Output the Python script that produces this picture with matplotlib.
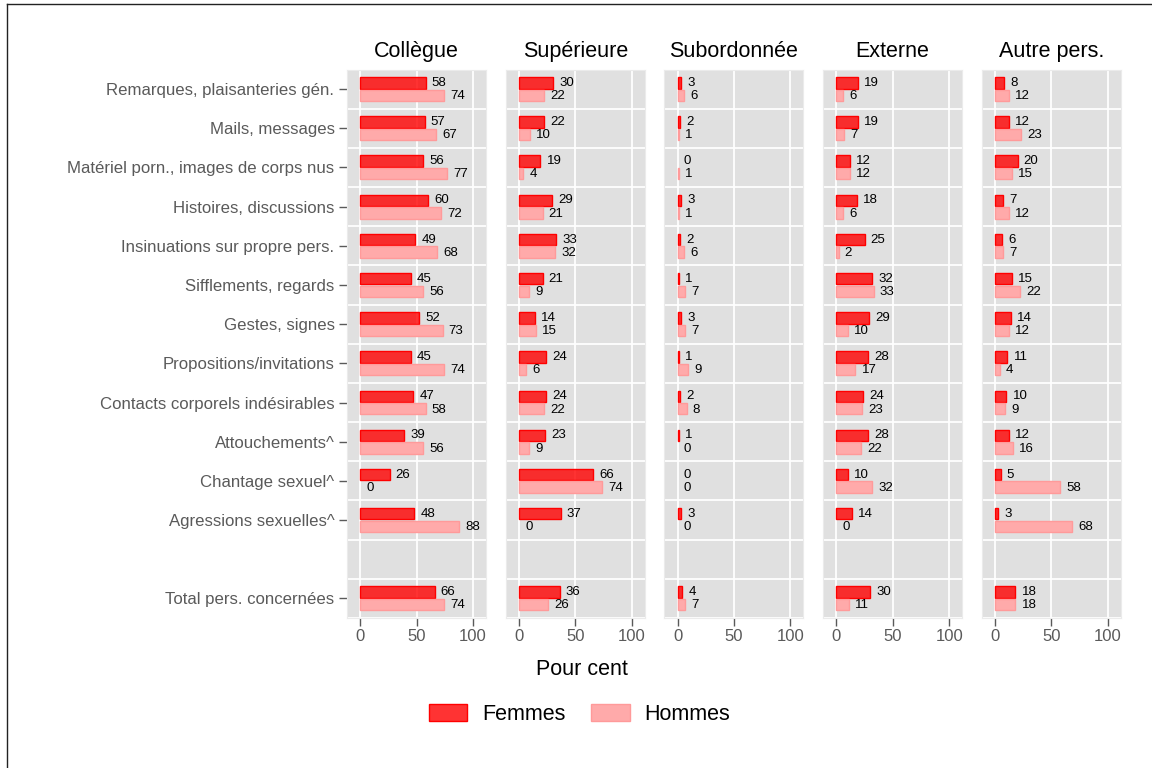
import matplotlib.pyplot as plt
from matplotlib.patches import Patch
from matplotlib.lines import Line2D
import numpy as np

plt.rcParams['font.family'] = ['Liberation Sans', 'DejaVu Sans']

categories = [
    'Remarques, plaisanteries gén.', 'Mails, messages',
    'Matériel porn., images de corps nus', 'Histoires, discussions',
    'Insinuations sur propre pers.', 'Sifflements, regards',
    'Gestes, signes', 'Propositions/invitations',
    'Contacts corporels indésirables', 'Attouchements^',
    'Chantage sexuel^', 'Agressions sexuelles^', 'Total pers. concernées',
]
facettes = ['Collègue', 'Supérieure', 'Subordonnée', 'Externe', 'Autre pers.']

# valeurs en pour cent (femmes / hommes), la derniere = total
collegue_f = [58, 57, 56, 60, 49, 45, 52, 45, 47, 39, 26, 48, 66]
collegue_h = [74, 67, 77, 72, 68, 56, 73, 74, 58, 56, 0, 88, 74]
superieure_f = [30, 22, 19, 29, 33, 21, 14, 24, 24, 23, 66, 37, 36]
superieure_h = [22, 10, 4, 21, 32, 9, 15, 6, 22, 9, 74, 0, 26]
subordonnee_f = [3, 2, 0, 3, 2, 1, 3, 1, 2, 1, 0, 3, 4]
subordonnee_h = [6, 1, 1, 1, 6, 7, 7, 9, 8, 0, 0, 0, 7]
externe_f = [19, 19, 12, 18, 25, 32, 29, 28, 24, 28, 10, 14, 30]
externe_h = [6, 7, 12, 6, 2, 33, 10, 17, 23, 22, 32, 0, 11]
autre_f = [8, 12, 20, 7, 6, 15, 14, 11, 10, 12, 5, 3, 18]
autre_h = [12, 23, 15, 12, 7, 22, 12, 4, 9, 16, 58, 68, 18]

series = [(collegue_f, collegue_h), (superieure_f, superieure_h),
          (subordonnee_f, subordonnee_h), (externe_f, externe_h),
          (autre_f, autre_h)]

rouge = (1, 0, 0, 0.8)
rose = '#ffaaaa'
rose_bord = '#ff9a9a'
gris = '#5a5a5a'

W, H = 1152, 768
fig = plt.figure(figsize=(W / 100, H / 100), dpi=100)

# une ligne vide avant le total
ypos = np.r_[np.arange(12), 13]
left0, top, bottom = 347, 69.5, 618
pw, step = 139, 158.7

for i, (nom, (f, h)) in enumerate(zip(facettes, series)):
    f = np.array(f)
    h = np.array(h)
    ax = fig.add_axes([(left0 + i * step) / W, 1 - bottom / H, pw / W, (bottom - top) / H])
    ax.set_facecolor('#e0e0e0')
    ax.set_axisbelow(True)
    ax.barh(ypos[f > 0] - 0.16, f[f > 0], height=0.29, color=rouge, edgecolor='red', linewidth=1)
    ax.barh(ypos[h > 0] + 0.16, h[h > 0], height=0.29, color=rose, edgecolor=rose_bord, linewidth=1)
    for y, v in zip(ypos, f):
        ax.text(v + 5.5, y - 0.16, str(v), va='center', ha='left', fontsize=9.5)
    for y, v in zip(ypos, h):
        ax.text(v + 5.5, y + 0.18, str(v), va='center', ha='left', fontsize=9.5)

    ax.set_xlim(-11.7, 111.5)
    ax.set_ylim(13.5, -0.5)
    ax.set_xticks([0, 50, 100])
    ax.set_yticks(np.arange(-0.5, 14, 1), minor=True)
    ax.grid(axis='x', which='major', color='white', linewidth=1.3)
    ax.grid(axis='y', which='minor', color='white', linewidth=1.3)
    ax.tick_params(which='minor', length=0)
    ax.tick_params(axis='x', colors=gris, length=6, width=1, labelsize=12, pad=2)
    if i == 0:
        ax.set_yticks(ypos)
        ax.set_yticklabels(categories)
        ax.tick_params(axis='y', colors=gris, length=6, width=1, labelsize=12.1, pad=3)
    else:
        ax.set_yticks([])
    for s in ax.spines.values():
        s.set_color('#ebebeb')
    ax.set_title(nom, fontsize=15.5, pad=9)

fig.text(582 / W, 1 - 675 / H, 'Pour cent', ha='center', va='baseline', fontsize=15.5)

poignees = [Patch(facecolor=rouge, edgecolor='red', label='Femmes'),
            Patch(facecolor=rose, edgecolor=rose_bord, label='Hommes')]
fig.legend(handles=poignees, loc='center', bbox_to_anchor=(579.5 / W, 1 - 714.5 / H),
           ncol=2, frameon=False, fontsize=15.5, handlelength=1.8, handleheight=0.88,
           handletextpad=0.7, columnspacing=1.16)

# cadre (gauche et haut)
fig.add_artist(Line2D([7 / W, 7 / W], [0, 1 - 4 / H], transform=fig.transFigure, color='#222222', lw=1))
fig.add_artist(Line2D([7 / W, 1], [1 - 4 / H, 1 - 4 / H], transform=fig.transFigure, color='#222222', lw=1))

fig.savefig('out.png', dpi=100)
